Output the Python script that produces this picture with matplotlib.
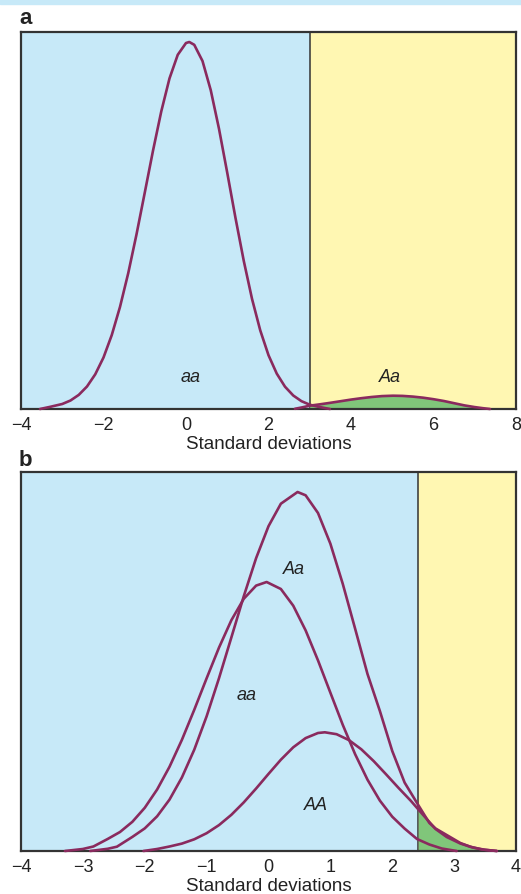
import matplotlib.pyplot as plt
from matplotlib.patches import Rectangle

plt.rcParams['font.family'] = ['Liberation Sans', 'DejaVu Sans']

# panel a: values (x in SD, y = curve height in px)
a_aa_x = [-3.54, -3.3, -3.0, -2.8, -2.6, -2.4, -2.2, -2.0, -1.8, -1.6, -1.4,
          -1.2, -1.0, -0.8, -0.6, -0.4, -0.2, 0.0, 0.08, 0.2, 0.4, 0.6, 0.8,
          1.0, 1.2, 1.4, 1.6, 1.8, 2.0, 2.2, 2.4, 2.6, 2.8, 3.0, 3.2, 3.49]
a_aa_y = [0, 2.1, 5.0, 8.5, 14.1, 22.5, 34.7, 51.5, 73.9, 102.1, 135.9,
          174.6, 216.3, 258.3, 297.5, 330.6, 354.2, 366, 367, 364.2, 348, 318.8, 280.2,
          236.2, 191, 148.2, 110.2, 78.6, 53.8, 35.4, 22.3, 13.5, 7.8, 4.3, 2.3, 0]
a_Aa_x = [2.64, 2.8, 3.0, 3.25, 3.5, 3.75, 4.0, 4.25, 4.5, 4.75, 5.02, 5.25,
          5.5, 5.75, 6.0, 6.25, 6.5, 6.75, 7.0, 7.2, 7.37]
a_Aa_y = [0.2, 1.5, 3.3, 4.7, 6.2, 7.8, 9.4, 10.8, 12.0, 12.9, 13.3, 13.1,
          12.4, 11.3, 9.8, 8.0, 5.8, 3.6, 1.9, 0.8, 0]
a_cut = 3.0
a_ticks = [-4, -2, 0, 2, 4, 6, 8]

# panel b
b_aa_x = [-3.29, -3.0, -2.83, -2.6, -2.4, -2.2, -2.0, -1.8, -1.6, -1.4, -1.2,
          -1.0, -0.8, -0.6, -0.4, -0.2, -0.03, 0.2, 0.4, 0.6, 0.8, 1.0, 1.2,
          1.4, 1.6, 1.8, 2.0, 2.2, 2.4, 2.6, 2.8, 3.04]
b_aa_y = [0, 2.0, 4.5, 12.0, 19.0, 29.2, 43.2, 61.5, 84.2, 111.1, 141.2,
          172.7, 203.4, 230.8, 252.2, 265.4, 269, 262, 245.3, 220.6, 190.6, 158.3, 126.2,
          96.8, 71.3, 50.4, 34.3, 22.4, 12.0, 6.5, 2.5, 0]
b_Aa_x = [-2.88, -2.6, -2.45, -2.2, -2.0, -1.8, -1.6, -1.4, -1.2, -1.0, -0.8,
          -0.6, -0.4, -0.2, 0.0, 0.2, 0.47, 0.6, 0.8, 1.0, 1.2, 1.4, 1.6,
          1.8, 2.0, 2.2, 2.42, 2.6, 2.7, 2.88, 3.1, 3.26, 3.45, 3.69]
b_Aa_y = [0, 2.2, 4.3, 14.1, 22.6, 34.7, 51.4, 73.5, 101.3, 134.7, 172.8,
          213.6, 254.7, 292.9, 324.8, 347.3, 359, 355.7, 338, 307.3, 267.2, 222.3, 177,
          140, 100, 68.4, 46, 28, 22.5, 16, 8, 4.3, 1.5, 0]
b_AA_x = [-2.02, -1.8, -1.6, -1.4, -1.2, -1.0, -0.8, -0.6, -0.4, -0.2, 0.0,
          0.2, 0.4, 0.6, 0.8, 0.91, 1.1, 1.3, 1.5, 1.7, 1.9, 2.1, 2.3,
          2.5, 2.7, 2.88, 3.1, 3.3, 3.5, 3.69]
b_AA_y = [0, 2.0, 4.5, 7.4, 11.7, 17.8, 25.9, 36.2, 48.6, 62.5, 77.1,
          91.3, 103.7, 112.9, 118, 118.7, 116.8, 110.9, 101.7, 89.9, 76.7, 63.2, 50.2,
          36, 22, 14, 7.5, 3.5, 1.2, 0]
b_cut = 2.42
b_ticks = [-4, -3, -2, -1, 0, 1, 2, 3, 4]

BLUE = '#C7E9F8'
YELLOW = '#FFF7B2'
GREEN = '#80C67A'
LINE = '#8A2A5E'
EDGE = '#333333'
TXT = '#222222'

fig = plt.figure(figsize=(5.21, 8.94), dpi=100)
fig.patches.append(Rectangle((0, 1 - 4 / 894), 1, 4 / 894, transform=fig.transFigure,
                             color=BLUE, zorder=0))

ax_a = fig.add_axes([21 / 521, 1 - 409 / 894, 495 / 521, 377 / 894])
ax_b = fig.add_axes([21 / 521, 1 - 851 / 894, 495 / 521, 379 / 894])


def setup(ax, xmin, xmax, ymax, cut, ticks):
    ax.set_xlim(xmin, xmax)
    ax.set_ylim(0, ymax)
    ax.axvspan(xmin, cut, color=BLUE, zorder=0, lw=0)
    ax.axvspan(cut, xmax, color=YELLOW, zorder=0, lw=0)
    ax.axvline(cut, color=EDGE, lw=1.1, zorder=1)
    ax.set_xticks(ticks)
    ax.set_yticks([])
    ax.tick_params(axis='x', length=0, pad=6, labelsize=13, colors=TXT)
    for s in ax.spines.values():
        s.set_color(EDGE)
        s.set_linewidth(1.6)
    ax.set_xlabel('Standard deviations', fontsize=13.5, labelpad=1, color=TXT)


setup(ax_a, -4, 8, 377, a_cut, a_ticks)
setup(ax_b, -4, 4, 379, b_cut, b_ticks)

# green tails beyond the cut-off
gx = [x for x in a_Aa_x if x >= a_cut]
gy = [y for x, y in zip(a_Aa_x, a_Aa_y) if x >= a_cut]
ax_a.fill_between(gx, 0, gy, color=GREEN, lw=0, zorder=2)
gx = [x for x in b_Aa_x if x >= b_cut]
gy = [y for x, y in zip(b_Aa_x, b_Aa_y) if x >= b_cut]
ax_b.fill_between(gx, 0, gy, color=GREEN, lw=0, zorder=2)

for ax, xs, ys in [(ax_a, a_aa_x, a_aa_y), (ax_a, a_Aa_x, a_Aa_y),
                   (ax_b, b_aa_x, b_aa_y), (ax_b, b_Aa_x, b_Aa_y),
                   (ax_b, b_AA_x, b_AA_y)]:
    ax.plot(xs, ys, color=LINE, lw=1.9, zorder=3, solid_capstyle='round',
            solid_joinstyle='round', clip_on=False)

lab = dict(fontsize=13, style='italic', ha='center', va='center', color=TXT)
ax_a.text(0.10, 31, 'aa', **lab)
ax_a.text(4.95, 31, 'Aa', **lab)
ax_b.text(0.41, 281, 'Aa', **lab)
ax_b.text(-0.35, 155, 'aa', **lab)
ax_b.text(0.77, 46, 'AA', **lab)

fig.text(19 / 521, 1 - 19 / 894, 'a', fontsize=16, fontweight='heavy', va='center', color=TXT)
fig.text(19 / 521, 1 - 461 / 894, 'b', fontsize=16, fontweight='heavy', va='center', color=TXT)

fig.savefig('out.png', dpi=100)
